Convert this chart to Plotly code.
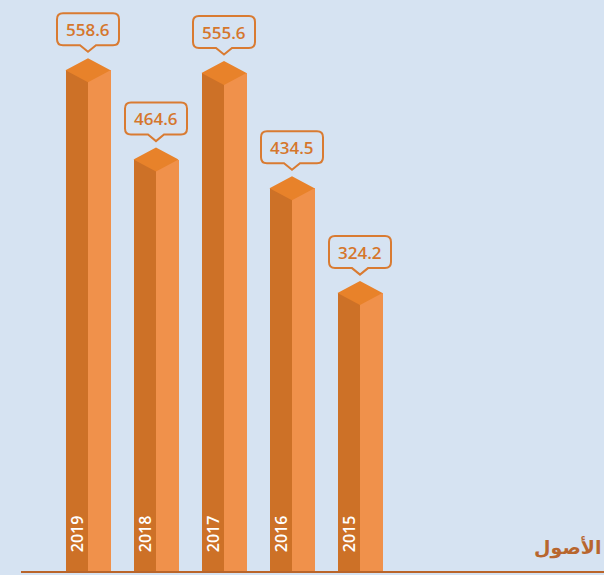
import plotly.graph_objects as go

# ---- data ----
years = ["2019", "2018", "2017", "2016", "2015"]
values = [558.6, 464.6, 555.6, 434.5, 324.2]
value_labels = ["558.6", "464.6", "555.6", "434.5", "324.2"]
axis_title = "الأصول"

# ---- layout constants ----
W, H = 604, 575
MB = 4
PLOT_H = H - MB
X0, X1 = -88 / 68, (604 - 88) / 68
Y0, Y1 = 19.35, 619.8
PX_PER_Y = PLOT_H / (Y1 - Y0)
PX_PER_X = W / (X1 - X0)
HALF_W = 22.5 / PX_PER_X
SIDE_DY = 12 / PX_PER_Y
FRONT_DY = 24 / PX_PER_Y

BG = "#d6e3f2"
LEFT_C = "#cd7127"
RIGHT_C = "#f0914b"
TOP_C = "#e8822a"
LABEL_C = "#d5762c"
BOX_C = "#d97b32"

xs = list(range(len(values)))

fig = go.Figure()

# left faces
fig.add_trace(go.Bar(
    x=[i - HALF_W / 2 for i in xs],
    y=[v - SIDE_DY - Y0 for v in values],
    base=Y0,
    width=HALF_W,
    marker=dict(color=LEFT_C, line=dict(width=0)),
    hoverinfo="skip",
))
# right faces
fig.add_trace(go.Bar(
    x=[i + HALF_W / 2 for i in xs],
    y=[v - SIDE_DY - Y0 for v in values],
    base=Y0,
    width=HALF_W,
    marker=dict(color=RIGHT_C, line=dict(width=0)),
    hoverinfo="skip",
))

# top diamonds
dx, dy = [], []
for i, v in zip(xs, values):
    dx += [i, i + HALF_W, i, i - HALF_W, i, None]
    dy += [v, v - SIDE_DY, v - FRONT_DY, v - SIDE_DY, v, None]
fig.add_trace(go.Scatter(
    x=dx, y=dy, mode="lines", fill="toself",
    fillcolor=TOP_C, line=dict(width=0, color=TOP_C),
    hoverinfo="skip",
))

# label boxes (pixel-sized callouts anchored at each bar top)
bl, br, bb, bt, r = -31, 31, 13, 45, 6
ph, tip = 8, 6.5
callout = (
    f"M {bl + r},{bt} L {br - r},{bt} Q {br},{bt} {br},{bt - r} "
    f"L {br},{bb + r} Q {br},{bb} {br - r},{bb} "
    f"L {ph},{bb} L 0,{tip} L {-ph},{bb} "
    f"L {bl + r},{bb} Q {bl},{bb} {bl},{bb + r} "
    f"L {bl},{bt - r} Q {bl},{bt} {bl + r},{bt} Z"
)
shapes = []
annotations = []
for i, v, lab, yr in zip(xs, values, value_labels, years):
    shapes.append(dict(
        type="path", xref="x", yref="y",
        xsizemode="pixel", ysizemode="pixel",
        xanchor=i, yanchor=v, path=callout,
        line=dict(color=BOX_C, width=2), fillcolor="rgba(0,0,0,0)",
    ))
    annotations.append(dict(
        x=i, y=v, xref="x", yref="y", text=lab, showarrow=False,
        yshift=(bb + bt) / 2, xanchor="center", yanchor="middle",
        font=dict(family="Open Sans", size=17, color=LABEL_C, weight=600),
    ))
    annotations.append(dict(
        x=i - HALF_W / 2, y=Y0, xref="x", yref="y", text=yr, showarrow=False,
        textangle=-90, xanchor="center", yanchor="bottom", yshift=17,
        font=dict(family="Open Sans", size=16, color="white", weight=600),
    ))

# baseline
shapes.append(dict(
    type="line", xref="paper", yref="paper",
    x0=21 / W, x1=1, y0=-1 / PLOT_H, y1=-1 / PLOT_H,
    line=dict(color="#b9652b", width=2),
))

annotations.append(dict(
    x=603 / W, y=(PLOT_H - 547) / PLOT_H, xref="paper", yref="paper",
    text=axis_title, showarrow=False, xanchor="right", yanchor="middle",
    font=dict(family="DejaVu Sans", size=19, color="#b8662e", weight="bold"),
))

fig.update_layout(
    width=W, height=H,
    margin=dict(l=0, r=0, t=0, b=MB, pad=0),
    paper_bgcolor=BG, plot_bgcolor=BG,
    showlegend=False, barmode="overlay", bargap=0,
    xaxis=dict(range=[X0, X1], visible=False, fixedrange=True),
    yaxis=dict(range=[Y0, Y1], visible=False, fixedrange=True),
    shapes=shapes, annotations=annotations,
)

fig.write_html(
    "out.html",
    config={"displayModeBar": False},
    post_script="document.body.style.margin='0';document.body.style.padding='0';document.body.style.overflow='hidden';document.body.style.background='" + BG + "';",
)
